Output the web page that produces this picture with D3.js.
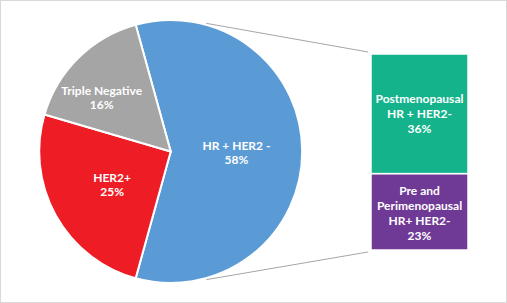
<!DOCTYPE html>
<html>
<head>
<meta charset="utf-8">
<script src="https://cdn.jsdelivr.net/npm/d3@7"></script>
<style>
  body { margin: 0; background: #fff; }
  svg { display: block; font-family: Lato, "Open Sans", sans-serif; }
</style>
</head>
<body>
<div id="chart"></div>
<script>
// Pie slices (clockwise, HR+ HER2- first)
const pieLabels = [["HR + HER2 -"], ["HER2+"], ["Triple Negative"]];
const pieValues = [58, 25, 16];
const pieColors = ["#5b9bd5", "#ee1c25", "#a5a5a5"];

// Breakdown of HR+ HER2- (bottom to top)
const barLabels = [["Pre and", "Perimenopausal", "HR+ HER2-"], ["Postmenopausal", "HR + HER2-"]];
const barValues = [23, 36];
const barColors = ["#6f3996", "#14b38b"];

const width = 507, height = 303;
const cx = 170.7, cy = 151.5, r = 131.5;

const svg = d3.select("#chart")
  .append("svg")
    .attr("width", width)
    .attr("height", height);

// chart border
svg.append("rect")
  .attr("x", 0.5).attr("y", 0.5)
  .attr("width", width - 1).attr("height", height - 1)
  .attr("fill", "#fff")
  .attr("stroke", "#d9d9d9");

// Pie, HR+ HER2- centred on the right
const total = d3.sum(pieValues);
const firstSpan = pieValues[0] / total * 2 * Math.PI;
const start = Math.PI / 2 - firstSpan / 2;
const pie = d3.pie().sort(null).startAngle(start).endAngle(start + 2 * Math.PI);
const arcs = pie(pieValues);
const arc = d3.arc().innerRadius(0).outerRadius(r);

const g = svg.append("g").attr("transform", `translate(${cx},${cy})`);

// connector lines from the pie to the bar
const barX = 371, barW = 97, barTop = 54, barBottom = 250;
const y = d3.scaleLinear()
  .domain([0, d3.sum(barValues)])
  .range([barBottom, barTop]);

const pTop = d3.pointRadial(15.5 * Math.PI / 180, r + 1.5);
const pBot = d3.pointRadial(164.5 * Math.PI / 180, r + 1.5);
svg.append("line")
  .attr("x1", cx + pTop[0]).attr("y1", cy + pTop[1])
  .attr("x2", barX - 3).attr("y2", barTop - 2)
  .attr("stroke", "#a6a6a6").attr("stroke-width", 1);
svg.append("line")
  .attr("x1", cx + pBot[0]).attr("y1", cy + pBot[1])
  .attr("x2", barX - 3).attr("y2", barBottom + 2)
  .attr("stroke", "#a6a6a6").attr("stroke-width", 1);

g.selectAll("path")
  .data(arcs)
  .join("path")
    .attr("d", arc)
    .attr("fill", (d, i) => pieColors[i])
    .attr("stroke", "#fff")
    .attr("stroke-width", 2);

// label distance (fraction of radius) and angle nudge (degrees)
const labelR = [0.5, 0.51, 0.67];
const labelShift = [0, 0, -7];
const pieText = g.selectAll("text.slice")
  .data(arcs)
  .join("text")
    .attr("class", "slice")
    .attr("text-anchor", "middle")
    .attr("fill", "#fff")
    .attr("font-size", 12)
    .attr("font-weight", "bold")
    .attr("transform", (d, i) => {
      const a = (d.startAngle + d.endAngle) / 2 + labelShift[i] * Math.PI / 180;
      const p = d3.pointRadial(a, r * labelR[i]);
      return `translate(${p[0]},${p[1]})`;
    });
pieText.each(function(d, i) {
  const lines = pieLabels[i].concat([d.data + "%"]);
  const t = d3.select(this);
  lines.forEach((s, k) => {
    t.append("tspan")
      .attr("x", 0)
      .attr("y", (k - (lines.length - 1) / 2) * 14 + 5)
      .text(s);
  });
});

// stacked bar
let acc = 0;
const segs = barValues.map(v => { const s = { v, y0: acc, y1: acc + v }; acc += v; return s; });

svg.selectAll("rect.seg")
  .data(segs)
  .join("rect")
    .attr("class", "seg")
    .attr("x", barX)
    .attr("width", barW)
    .attr("y", d => y(d.y1))
    .attr("height", d => y(d.y0) - y(d.y1))
    .attr("fill", (d, i) => barColors[i])
    .attr("stroke", "#fff")
    .attr("stroke-width", 1.5);

const barText = svg.selectAll("text.seg")
  .data(segs)
  .join("text")
    .attr("class", "seg")
    .attr("text-anchor", "middle")
    .attr("fill", "#fff")
    .attr("font-size", 12)
    .attr("font-weight", "bold");
barText.each(function(d, i) {
  const lines = barLabels[i].concat([d.v + "%"]);
  const t = d3.select(this);
  const top = i === 0 ? y(d.y1) + 21 : y(d.y1) + 49;
  lines.forEach((s, k) => {
    t.append("tspan")
      .attr("x", barX + barW / 2)
      .attr("y", top + k * 15)
      .text(s);
  });
});
</script>
</body>
</html>
